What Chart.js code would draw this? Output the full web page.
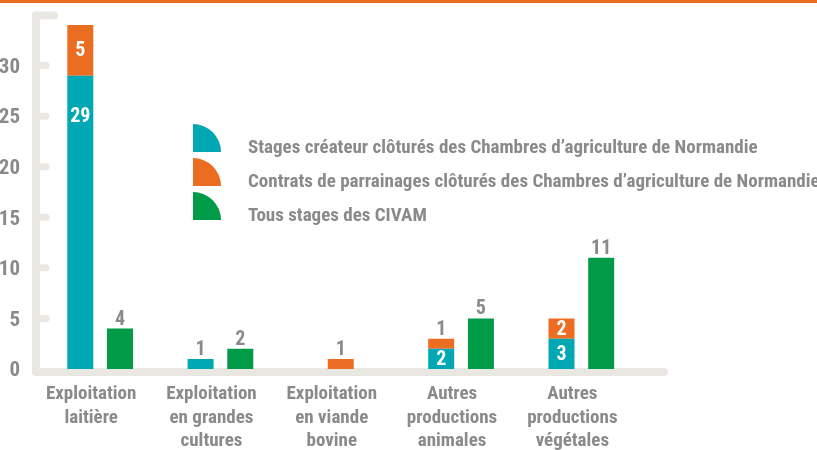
<!DOCTYPE html>
<html><head><meta charset="utf-8">
<script src="https://cdn.jsdelivr.net/npm/chart.js@4"></script>
<style>html,body{margin:0;padding:0;background:#fff;overflow:hidden}</style>
</head><body>
<canvas id="c" width="817" height="450"></canvas>
<script>
// ---- data ----
const categories = [["Exploitation","laitière"],["Exploitation","en grandes","cultures"],["Exploitation","en viande","bovine"],["Autres","productions","animales"],["Autres","productions","végétales"]];
const seriesNames = ["Stages créateur clôturés des Chambres d’agriculture de Normandie","Contrats de parrainages clôturés des Chambres d’agriculture de Normandie","Tous stages des CIVAM"];
const stagesCreateur = [29, 1, null, 2, 3];
const contratsParrainage = [5, null, 1, 1, 2];
const stagesCivam = [4, 2, null, 5, 11];
const yTickValues = [0, 5, 10, 15, 20, 25, 30];

// ---- style ----
const TEAL = '#00a8b4', ORANGE = '#eb6d22', GREEN = '#009b47', GRAY = '#8a8a8a', AXIS = '#e9e7e2';
const FONT = "'Roboto Condensed','DejaVu Sans Condensed',sans-serif";

const decor = {
  id: 'decor',
  beforeDatasetsDraw(chart) {
    const ctx = chart.ctx, y = chart.scales.y, area = chart.chartArea;
    ctx.save();
    ctx.fillStyle = ORANGE;
    ctx.fillRect(0, 0, chart.width, 3);
    ctx.strokeStyle = AXIS; ctx.lineCap = 'round'; ctx.lineJoin = 'round';
    ctx.lineWidth = 8;
    ctx.beginPath();
    ctx.moveTo(area.left + 14, area.top + 0.5);
    ctx.lineTo(area.left - 4, area.top + 0.5);
    ctx.lineTo(area.left - 4, area.bottom + 3);
    ctx.lineTo(area.left + 624, area.bottom + 3);
    ctx.stroke();
    ctx.lineWidth = 7;
    yTickValues.forEach(v => {
      if (v === 0) return;
      const py = y.getPixelForValue(v);
      ctx.beginPath(); ctx.moveTo(area.left - 4, py); ctx.lineTo(area.left + 6, py); ctx.stroke();
    });
    ctx.restore();
  }
};

const valueLabels = {
  id: 'valueLabels',
  afterDatasetsDraw(chart) {
    const ctx = chart.ctx;
    chart.data.datasets.forEach((ds, di) => {
      const meta = chart.getDatasetMeta(di);
      meta.data.forEach((bar, i) => {
        const v = ds.data[i];
        if (v == null) return;
        const top = Math.min(bar.y, bar.base), h = Math.abs(bar.base - bar.y);
        const inside = ds.labelInside && v >= 2;
        ctx.save();
        ctx.font = 'bold 20px ' + FONT;
        ctx.textAlign = 'center';
        if (inside) {
          ctx.fillStyle = '#fff'; ctx.textBaseline = 'middle';
          ctx.fillText(String(v), bar.x, top + Math.min(h / 2, 40) + 1);
        } else {
          ctx.fillStyle = GRAY; ctx.textBaseline = 'alphabetic';
          ctx.fillText(String(v), bar.x, top - 4);
        }
        ctx.restore();
      });
    });
  }
};

const legendQuarter = {
  id: 'legendQuarter',
  afterDraw(chart) {
    const ctx = chart.ctx;
    const x0 = 193, bottoms = [152, 186, 220], r = 28;
    ctx.save();
    chart.data.datasets.forEach((ds, i) => {
      const b = bottoms[i];
      ctx.fillStyle = ds.backgroundColor;
      ctx.beginPath();
      ctx.moveTo(x0, b);
      ctx.lineTo(x0, b - r);
      ctx.arc(x0, b, r, -Math.PI / 2, 0);
      ctx.closePath();
      ctx.fill();
      ctx.fillStyle = GRAY;
      ctx.font = 'bold 19px ' + FONT;
      ctx.textBaseline = 'alphabetic';
      ctx.textAlign = 'left';
      ctx.fillText(ds.label, 248, b + 1);
    });
    ctx.restore();
  }
};

new Chart(document.getElementById('c'), {
  type: 'bar',
  data: {
    labels: categories,
    datasets: [
      { label: seriesNames[0], data: stagesCreateur, backgroundColor: TEAL, stack: 'a', labelInside: true },
      { label: seriesNames[1], data: contratsParrainage, backgroundColor: ORANGE, stack: 'a', labelInside: true },
      { label: seriesNames[2], data: stagesCivam, backgroundColor: GREEN, stack: 'b', labelInside: false }
    ]
  },
  options: {
    responsive: false,
    devicePixelRatio: 1,
    animation: false,
    layout: { padding: { top: 15, right: 175.5, left: 0, bottom: 0 } },
    datasets: { bar: { skipNull: true, maxBarThickness: 26, categoryPercentage: 0.66, barPercentage: 0.9 } },
    plugins: { legend: { display: false }, tooltip: { enabled: false } },
    scales: {
      x: {
        stacked: true,
        grid: { display: false }, border: { display: false },
        afterFit: s => { s.height = 81; s.paddingLeft = 0; s.paddingRight = 0; },
        ticks: { color: GRAY, font: { family: FONT, size: 19, weight: 'bold', lineHeight: 1.23 }, padding: 6, labelOffset: -9, maxRotation: 0, autoSkip: false }
      },
      y: {
        stacked: true, min: 0, max: 35,
        grid: { display: false }, border: { display: false },
        afterFit: s => { s.width = 40; s.paddingTop = 0; s.paddingBottom = 0; },
        ticks: { stepSize: 5, color: GRAY, padding: 12, labelOffset: 2, font: { family: FONT, size: 21, weight: 'bold' },
          callback: v => yTickValues.includes(v) ? String(v) : '' }
      }
    }
  },
  plugins: [decor, valueLabels, legendQuarter]
});
</script>
</body></html>
